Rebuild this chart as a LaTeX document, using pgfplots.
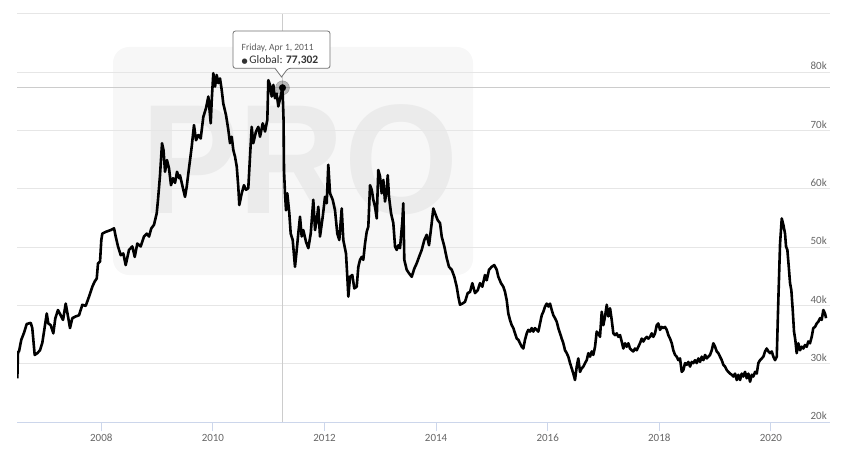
\documentclass[border=0pt]{standalone}
\usepackage{fontspec}
\setmainfont{Carlito}
\newfontfamily\symfont{DejaVu Sans}
\newfontfamily\wmfont{Liberation Sans}
\usepackage{pgfplots}
\pgfplotsset{compat=1.18}
\usepackage{pgfplotstable}
\definecolor{gridc}{HTML}{E6E6E6}
\definecolor{axisc}{HTML}{CCD6EB}
\definecolor{labc}{HTML}{666666}
\definecolor{wmbg}{HTML}{F7F7F7}
\definecolor{wmfg}{HTML}{EBEBEB}
\definecolor{crossc}{HTML}{CCCCCC}
\definecolor{tipc}{HTML}{333333}

\pgfplotstableread{
year value
2006.495 27500
2006.507 32000
2006.525 32100
2006.566 34100
2006.615 35300
2006.663 36800
2006.735 37000
2006.763 36100
2006.806 31500
2006.853 31800
2006.901 32300
2006.943 33600
2006.986 36300
2007.022 38600
2007.050 36900
2007.093 36600
2007.140 35200
2007.176 37800
2007.224 39200
2007.272 38300
2007.314 37500
2007.362 40300
2007.403 38100
2007.439 36100
2007.480 37800
2007.541 38100
2007.600 38300
2007.660 40100
2007.720 39900
2007.780 41500
2007.839 43200
2007.882 44100
2007.918 44600
2007.941 47200
2007.977 47500
2008.000 51200
2008.018 52300
2008.079 52600
2008.168 52900
2008.228 53200
2008.258 51800
2008.299 50100
2008.348 48600
2008.394 48900
2008.437 46900
2008.496 49500
2008.556 50100
2008.599 48300
2008.645 50600
2008.706 50100
2008.765 51800
2008.814 52300
2008.855 51800
2008.896 53200
2008.944 53800
2008.993 55800
2009.016 58100
2009.052 62300
2009.088 67800
2009.115 66600
2009.142 62900
2009.177 64900
2009.213 63500
2009.249 60600
2009.285 61800
2009.321 61000
2009.357 62900
2009.393 61800
2009.410 62300
2009.470 59800
2009.500 58600
2009.530 60300
2009.559 62600
2009.590 64900
2009.620 67200
2009.661 70900
2009.697 68300
2009.738 69200
2009.781 68600
2009.828 72300
2009.876 73800
2009.918 75800
2009.961 71200
2009.979 75200
2010.007 79800
2010.038 77500
2010.068 79500
2010.097 78100
2010.127 78900
2010.158 76900
2010.186 74600
2010.235 72600
2010.276 70100
2010.306 67800
2010.337 68900
2010.366 66600
2010.396 65500
2010.427 63800
2010.455 60300
2010.473 57200
2010.516 59200
2010.557 60600
2010.593 59800
2010.634 60100
2010.665 65500
2010.695 70600
2010.724 67800
2010.772 69800
2010.814 70600
2010.844 68900
2010.893 71200
2010.934 69800
2010.975 71800
2010.993 78600
2011.023 77800
2011.054 75800
2011.083 77800
2011.113 75500
2011.143 76300
2011.172 74100
2011.247 77302
2011.266 71800
2011.274 63200
2011.292 59200
2011.310 56300
2011.333 59200
2011.369 55800
2011.394 52300
2011.430 51200
2011.471 46600
2011.502 49500
2011.530 52300
2011.561 55200
2011.591 51800
2011.620 52900
2011.668 50900
2011.710 49800
2011.753 52300
2011.799 58100
2011.830 52900
2011.860 54600
2011.889 56900
2011.919 51800
2011.968 55200
2012.009 58600
2012.039 57500
2012.068 64100
2012.099 59200
2012.147 58100
2012.188 56300
2012.229 52300
2012.265 51200
2012.308 56600
2012.337 51200
2012.385 48900
2012.412 44300
2012.427 41500
2012.457 44900
2012.498 45200
2012.534 42900
2012.577 43200
2012.606 46600
2012.636 47800
2012.667 48300
2012.695 47800
2012.726 50600
2012.756 52600
2012.785 53500
2012.816 60600
2012.846 59800
2012.875 58100
2012.905 56900
2012.936 54900
2012.964 63200
2012.995 62100
2013.025 59200
2013.054 61500
2013.084 57800
2013.115 59800
2013.133 62300
2013.156 58600
2013.192 55800
2013.233 54100
2013.264 50100
2013.294 49500
2013.323 50300
2013.353 49800
2013.394 54300
2013.412 57500
2013.430 47800
2013.473 46100
2013.514 45500
2013.563 44900
2013.609 46300
2013.652 47200
2013.694 48300
2013.742 49500
2013.789 51200
2013.832 52100
2013.873 50300
2013.921 54100
2013.950 56600
2013.980 55800
2014.029 54600
2014.070 54100
2014.100 51800
2014.147 50100
2014.190 48100
2014.231 46600
2014.280 46100
2014.326 44900
2014.369 43200
2014.398 41500
2014.428 40100
2014.470 40300
2014.518 40600
2014.566 42100
2014.608 42300
2014.649 43800
2014.697 42100
2014.746 42600
2014.787 43800
2014.828 43200
2014.876 45200
2014.907 44300
2014.948 46100
2014.996 46600
2015.043 46900
2015.086 46100
2015.115 44900
2015.163 43800
2015.204 43200
2015.235 42300
2015.265 40900
2015.294 38600
2015.324 37500
2015.355 36600
2015.384 36100
2015.414 35200
2015.445 34300
2015.473 34100
2015.504 33500
2015.534 32900
2015.563 32600
2015.593 34100
2015.624 35200
2015.652 35800
2015.683 35500
2015.713 36100
2015.742 35500
2015.772 36100
2015.803 35800
2015.832 35500
2015.862 36900
2015.893 38300
2015.921 38900
2015.952 39800
2015.982 40300
2016.011 39800
2016.041 40300
2016.072 39200
2016.101 38300
2016.131 37800
2016.161 37200
2016.190 36100
2016.221 35200
2016.251 34300
2016.280 33500
2016.310 32300
2016.341 31800
2016.369 31200
2016.400 30100
2016.430 29200
2016.459 28300
2016.489 27200
2016.520 29500
2016.548 30900
2016.579 28600
2016.609 29200
2016.638 29500
2016.669 30100
2016.699 30600
2016.728 31800
2016.758 31200
2016.789 32100
2016.817 31500
2016.848 32900
2016.878 35500
2016.907 35200
2016.937 34600
2016.968 38900
2016.997 36600
2017.027 38100
2017.058 40100
2017.086 38100
2017.117 39500
2017.147 37500
2017.176 35200
2017.206 34900
2017.237 35200
2017.265 34600
2017.296 34900
2017.326 33800
2017.355 32600
2017.386 33500
2017.416 32900
2017.445 33500
2017.475 32600
2017.506 32300
2017.534 32100
2017.565 32600
2017.595 32300
2017.624 32900
2017.654 33500
2017.685 34300
2017.714 33800
2017.744 34300
2017.775 34600
2017.803 34300
2017.834 34600
2017.864 35200
2017.893 34600
2017.923 35200
2017.954 36600
2017.982 36900
2018.013 35800
2018.043 36300
2018.072 36100
2018.103 36300
2018.133 35800
2018.162 34900
2018.192 34300
2018.223 33500
2018.251 32300
2018.282 31500
2018.312 31200
2018.341 30600
2018.371 30900
2018.402 28600
2018.431 28900
2018.461 30100
2018.492 29800
2018.520 30300
2018.551 29500
2018.581 30300
2018.610 30100
2018.640 30600
2018.671 30100
2018.699 30900
2018.730 30300
2018.760 31200
2018.789 30600
2018.820 31500
2018.850 30900
2018.879 31200
2018.909 31500
2018.940 32300
2018.968 33500
2018.999 32900
2019.029 32100
2019.058 31800
2019.088 31200
2019.119 30600
2019.148 29800
2019.178 29500
2019.209 28900
2019.237 28600
2019.268 28300
2019.298 28100
2019.327 27800
2019.357 28300
2019.388 27200
2019.416 28100
2019.447 27200
2019.477 28300
2019.506 27800
2019.536 28600
2019.567 27500
2019.596 28300
2019.626 26900
2019.657 28100
2019.685 27800
2019.716 28600
2019.746 28300
2019.775 30100
2019.805 30600
2019.836 30900
2019.864 31200
2019.895 32100
2019.925 32600
2019.954 32100
2019.985 31800
2020.015 32100
2020.044 31200
2020.074 30600
2020.105 31200
2020.133 40900
2020.164 50600
2020.194 54900
2020.223 53800
2020.253 52300
2020.271 50100
2020.295 49500
2020.320 46600
2020.343 43800
2020.366 42600
2020.391 39200
2020.414 35500
2020.437 34100
2020.462 31800
2020.491 33500
2020.522 32300
2020.552 32900
2020.581 32600
2020.611 33200
2020.641 32900
2020.670 33800
2020.700 33500
2020.731 34600
2020.760 36100
2020.790 36300
2020.821 36900
2020.850 37200
2020.880 37800
2020.910 37500
2020.939 39200
2020.970 38600
2020.988 37800
}\globaldata

\begin{document}
\begin{tikzpicture}
\useasboundingbox (0pt,0pt) rectangle (854pt,456pt);
% watermark
\fill[wmbg, rounded corners=16pt] (113pt,181pt) rectangle (473pt,409pt);
\node[text=wmfg, inner sep=0pt, xscale=0.94] at (300pt,296pt) {\wmfont\bfseries\fontsize{156}{156}\selectfont PRO};
\begin{axis}[
  at={(17pt,34pt)}, anchor=south west,
  scale only axis, width=813pt, height=408.3pt,
  xmin=2006.489, xmax=2021.059, ymin=20000, ymax=90000,
  axis x line*=bottom, axis y line*=right,
  x axis line style={draw=axisc, line width=1pt},
  y axis line style={draw=none},
  xtick={2008,2010,2012,2014,2016,2018,2020},
  xticklabels={2008,2010,2012,2014,2016,2018,2020},
  ytick={20000,30000,40000,50000,60000,70000,80000},
  yticklabels={20k,30k,40k,50k,60k,70k,80k},
  ymajorgrids, major grid style={gridc, line width=1pt},
  xtick align=outside, major tick length=9pt,
  xtick style={draw=axisc, line width=1pt},
  ytick style={draw=none},
  tick label style={font=\fontsize{11}{13}\selectfont, text=labc},
  yticklabel style={anchor=south east, inner sep=0pt, xshift=-3pt, yshift=2pt},
  xticklabel style={inner sep=0pt, yshift=-3pt},
]
\draw[gridc, line width=1pt] (axis cs:2006.489,90000) -- (axis cs:2021.059,90000);
\draw[crossc, line width=1pt] (axis cs:2011.247,20000) -- (axis cs:2011.247,90000);
\draw[crossc, line width=1pt] (axis cs:2006.489,77302) -- (axis cs:2021.059,77302);
\addplot[black, line width=2.6pt, line join=round, no marks] table[x=year, y=value] {\globaldata};
\addplot[only marks, mark=*, mark size=7pt, black, opacity=0.25, mark options={draw=none}] coordinates {(2011.247,77302)};
\addplot[only marks, mark=*, mark size=3.3pt, black] coordinates {(2011.247,77302)};
\end{axis}
% tooltip
\draw[fill=white, draw=black!55, line width=0.8pt, rounded corners=2.5pt]
  (233pt,425pt) -- (330pt,425pt) -- (330pt,387.7pt) -- (288pt,387.7pt)
  [sharp corners] -- (281.5pt,379pt) -- (275pt,387.7pt) [rounded corners=2.5pt] -- (233pt,387.7pt) -- cycle;
\node[anchor=west, inner sep=0pt, text=tipc!80] at (241.5pt,408.5pt) {\fontsize{9.5}{11}\selectfont Friday, Apr 1, 2011};
\node[anchor=west, inner sep=0pt, text=tipc] at (241.5pt,395.5pt) {{\symfont\fontsize{7}{8}\selectfont ●}\,\fontsize{11.5}{13}\selectfont Global: \textbf{77,302}};
\end{tikzpicture}
\end{document}
